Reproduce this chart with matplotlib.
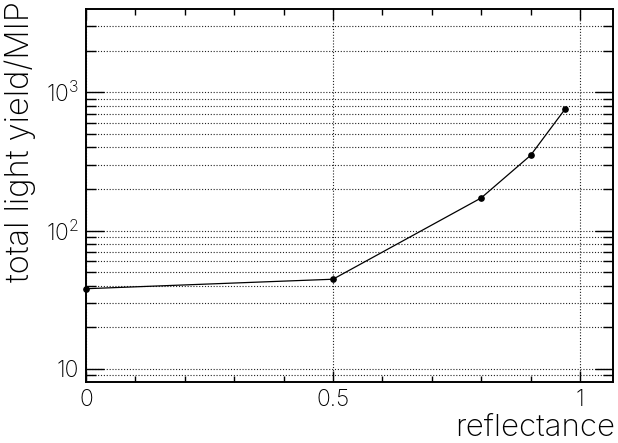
import matplotlib
matplotlib.use("Agg")
import matplotlib.pyplot as plt
from matplotlib.ticker import FixedLocator, FuncFormatter, MultipleLocator

reflectance = [0.0, 0.5, 0.8, 0.9, 0.97]
light_yield = [38, 44.5, 172, 349, 755]

x_major = [0, 0.5, 1]
x_labels = ["0", "0.5", "1"]
y_major = [10, 100, 1000]
y_labels = ["10", r"$\mathregular{10^{2}}$", r"$\mathregular{10^{3}}$"]
y_minor = [9, 20, 30, 40, 50, 60, 70, 80, 90, 200, 300, 400, 500, 600, 700, 800, 900, 2000, 3000]

plt.rcParams['font.family'] = ['Inter', 'DejaVu Sans']
plt.rcParams['font.weight'] = 'light'
plt.rcParams['mathtext.fontset'] = 'custom'
plt.rcParams['mathtext.rm'] = 'Inter:light'

fig = plt.figure(figsize=(6.18, 4.43), dpi=100)
ax = fig.add_axes([86/618, 1-382/443, (613-86)/618, (382-9)/443])

ax.plot(reflectance, light_yield, color='black', lw=0.9, marker='o', ms=3.8, zorder=3, clip_on=False)

ax.set_yscale('log')
ax.set_xlim(0, 1.067)
ax.set_ylim(8.05, 3990)

ax.xaxis.set_major_locator(FixedLocator(x_major))
ax.xaxis.set_major_formatter(FuncFormatter(lambda v, p: x_labels[p] if p < len(x_labels) else ""))
ax.xaxis.set_minor_locator(MultipleLocator(0.1))
ax.yaxis.set_major_locator(FixedLocator(y_major))
ax.yaxis.set_major_formatter(FuncFormatter(lambda v, p: y_labels[p] if p < len(y_labels) else ""))
ax.yaxis.set_minor_locator(FixedLocator(y_minor))
ax.yaxis.set_minor_formatter(FuncFormatter(lambda v, p: ""))

gridkw = dict(color='#222222', linestyle=(0, (1, 1.6)), linewidth=0.8)
ax.grid(True, which='major', axis='x', **gridkw)
ax.grid(True, which='both', axis='y', **gridkw)

ax.tick_params(which='both', direction='in', top=True, right=True, labelsize=16.5, width=1.0, pad=5)
ax.tick_params(axis='y', which='major', length=13)
ax.tick_params(axis='y', which='minor', length=7)
ax.tick_params(axis='x', which='major', length=8)
ax.tick_params(axis='x', which='minor', length=4.5)
for s in ax.spines.values():
    s.set_linewidth(1.4)

fig.text(615/618, 1-436/443, "reflectance", ha='right', va='baseline', fontsize=22.5)
fig.text(20/618, 1-1/443, "total light yield/MIP", ha='center', va='top', rotation=90, fontsize=23.5)

fig.savefig("out.png", dpi=100)
